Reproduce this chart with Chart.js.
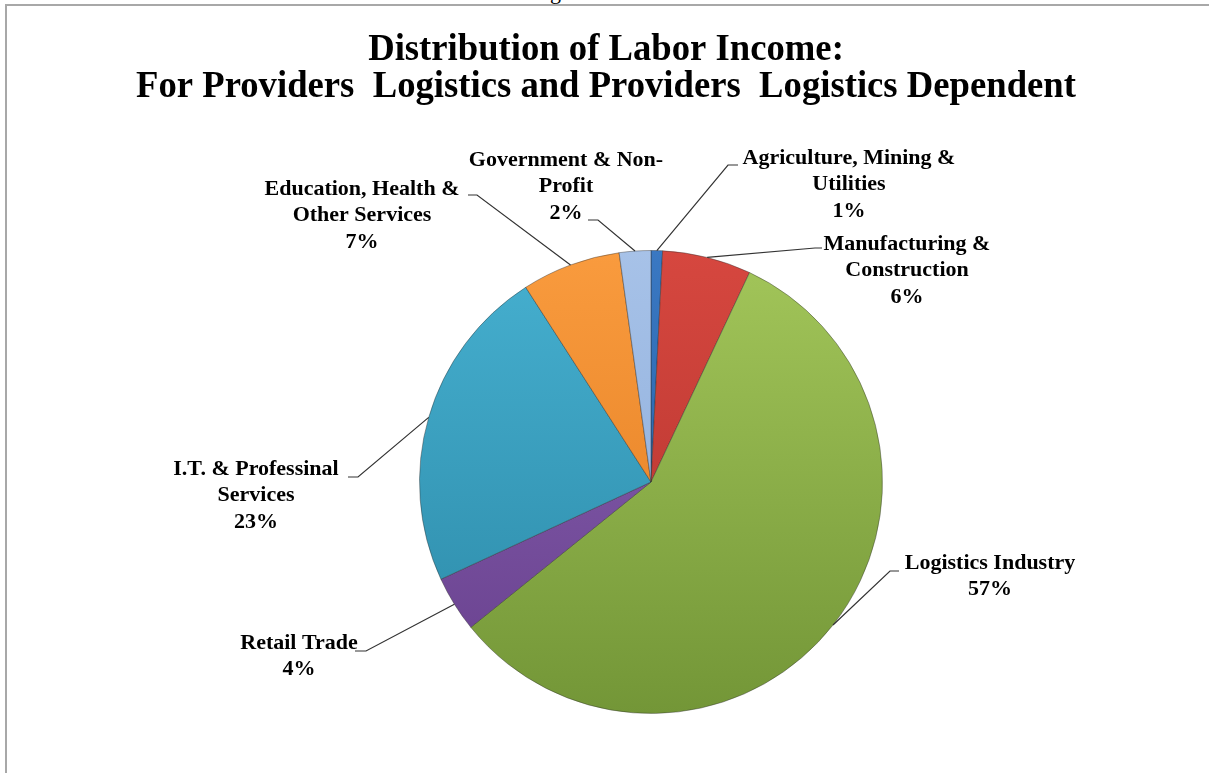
<!DOCTYPE html>
<html>
<head>
<meta charset="utf-8">
<script src="https://cdn.jsdelivr.net/npm/chart.js@4.4.0/dist/chart.umd.min.js"></script>
<style>
html,body{margin:0;padding:0;background:#fff;overflow:hidden}
#wrap{position:relative;width:1209px;height:773px;overflow:hidden}
#frame{position:absolute;left:5px;top:4px;width:1220px;height:800px;border-left:2px solid #a8a8a8;border-top:2px solid #a8a8a8}
#above{position:absolute;left:550px;top:-21px;font:22px 'Liberation Serif',serif;color:#000}
canvas{position:absolute;left:0;top:0}
</style>
</head>
<body>
<div id="wrap">
<div id="above">g</div>
<div id="frame"></div>
<canvas id="PieHTML" width="1209" height="773"></canvas>
</div>
<script>
// categories, clockwise from 12 o'clock
const SECTORS=['Agriculture, Mining & Utilities','Manufacturing & Construction','Logistics Industry','Retail Trade','I.T. & Professinal Services','Education, Health & Other Services','Government & Non-Profit']
// label text as it breaks in the picture
const SECTOR_LINES=[['Agriculture, Mining &','Utilities'],['Manufacturing &','Construction'],['Logistics Industry'],['Retail Trade'],['I.T. & Professinal','Services'],['Education, Health &','Other Services'],['Government & Non-','Profit']]
// share of labor income, %
const SHARES=[0.8,6.2,57.2,3.9,22.8,6.9,2.2]

const TITLE_LINES=['Distribution of Labor Income:','For Providers  Logistics and Providers  Logistics Dependent']

// top / bottom colour of each slice
const TOPCOL=['#3a78c2','#d6473f','#a3c65a','#8a64b4','#46b0d0','#f99b3e','#a7c2e8']
const BOTCOL=['#1f5a9e','#b0322c','#739637','#673f8c','#2b88a6','#e07a1e','#86a8d8']

// where each label sits: text centre x, first line y, leader knee and tail
const LABPOS=[
{x:849,y:158,kx:728,ky:165,tx:738},
{x:907,y:244,kx:815,ky:248,tx:822},
{x:990,y:563,kx:890,ky:571,tx:899},
{x:299,y:643,kx:366,ky:651,tx:355},
{x:256,y:469,kx:358,ky:477,tx:348},
{x:362,y:189,kx:477,ky:195,tx:468},
{x:566,y:160,kx:598,ky:220,tx:588}
]

let PieChart

function SliceFill(ctx){
const CH=ctx.chart,A=CH.chartArea
if(!A){return TOPCOL[ctx.dataIndex]}
const G=CH.ctx.createLinearGradient(0,A.top,0,A.bottom)
G.addColorStop(0,TOPCOL[ctx.dataIndex]);G.addColorStop(1,BOTCOL[ctx.dataIndex])
return G
}

const titlePlugin={id:'titleDraw',
afterDraw(chart){const c=chart.ctx;c.save();c.fillStyle='#000';c.textAlign='center';c.textBaseline='middle'
c.font="bold 38px 'Liberation Serif', serif"
const ys=[50,87]
TITLE_LINES.forEach((t,i)=>{c.save();c.translate(606,ys[i]);c.scale(0.965,1);c.fillText(t,0,0);c.restore()})
c.restore()}}

const labelPlugin={id:'sectorLabels',
afterDatasetsDraw(chart){
const c=chart.ctx,meta=chart.getDatasetMeta(0)
c.save()
meta.data.forEach((arc,i)=>{
const P=arc.getProps(['x','y','startAngle','endAngle','outerRadius'],true)
const mid=(P.startAngle+P.endAngle)/2
const px=P.x+Math.cos(mid)*P.outerRadius,py=P.y+Math.sin(mid)*P.outerRadius
const L=LABPOS[i]
c.strokeStyle='#333';c.lineWidth=1.2
c.beginPath();c.moveTo(px,py);c.lineTo(L.kx,L.ky);c.lineTo(L.tx,L.ky);c.stroke()
c.fillStyle='#000';c.textAlign='center';c.textBaseline='middle'
c.font="bold 22px 'Liberation Serif', serif"
const lines=SECTOR_LINES[i].concat([Math.round(SHARES[i])+'%'])
lines.forEach((t,k)=>c.fillText(t,L.x,L.y+k*26.5))
})
c.restore()}}

function LoadPie(){
PieChart=new Chart(document.getElementById('PieHTML'),{
type:'pie',
data:{labels:SECTORS,datasets:[{data:SHARES,backgroundColor:SliceFill,borderColor:'rgba(40,40,40,0.4)',borderWidth:1}]},
options:{responsive:false,animation:false,
layout:{padding:{top:250,bottom:59,left:419,right:326}},
plugins:{legend:{display:false},tooltip:{enabled:false},title:{display:false}}},
plugins:[titlePlugin,labelPlugin]
})
}
LoadPie()
</script>
</body>
</html>
